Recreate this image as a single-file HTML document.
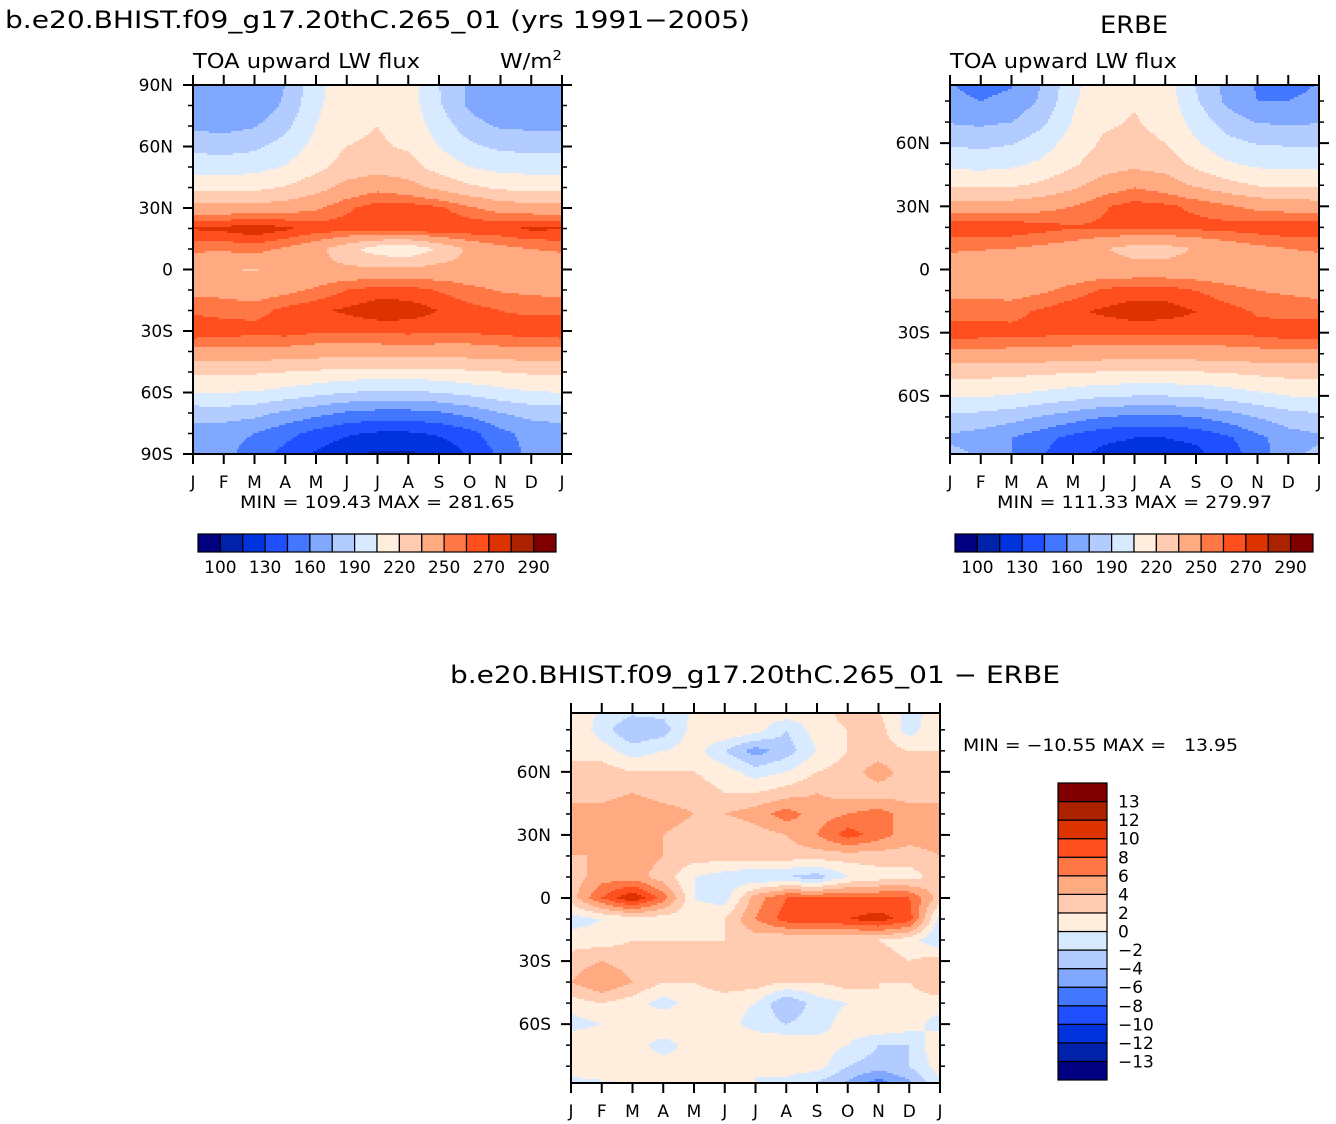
<!DOCTYPE html>
<html><head><meta charset="utf-8">
<style>
body{margin:0;background:#fff;width:1336px;height:1124px;overflow:hidden;font-family:"DejaVu Sans","Liberation Sans",sans-serif;}
svg{position:absolute;left:0;top:0;}
text{font-family:"DejaVu Sans","Liberation Sans",sans-serif;fill:#000;}
</style></head>
<body>
<svg id="fig" width="1336" height="1124" viewBox="0 0 1336 1124" xmlns="http://www.w3.org/2000/svg">
<text x="5" y="28" font-size="24" textLength="745" lengthAdjust="spacingAndGlyphs">b.e20.BHIST.f09_g17.20thC.265_01 (yrs 1991−2005)</text>
<text x="1100" y="33" font-size="24" textLength="68" lengthAdjust="spacingAndGlyphs">ERBE</text>
<text x="193" y="68" font-size="20" textLength="227" lengthAdjust="spacingAndGlyphs">TOA upward LW flux</text>
<text x="500" y="68" font-size="20" textLength="62" lengthAdjust="spacingAndGlyphs">W/m<tspan font-size="13" dy="-8">2</tspan></text>
<text x="950" y="68" font-size="20" textLength="227" lengthAdjust="spacingAndGlyphs">TOA upward LW flux</text>
<text x="240" y="508" font-size="17" textLength="275" lengthAdjust="spacingAndGlyphs">MIN = 109.43 MAX = 281.65</text>
<text x="997" y="508" font-size="17" textLength="275" lengthAdjust="spacingAndGlyphs">MIN = 111.33 MAX = 279.97</text>
<text x="450" y="683" font-size="24" textLength="610" lengthAdjust="spacingAndGlyphs">b.e20.BHIST.f09_g17.20thC.265_01 − ERBE</text>
<text x="963" y="751" font-size="17" textLength="275" lengthAdjust="spacingAndGlyphs" xml:space="preserve">MIN = −10.55 MAX =   13.95</text>
</svg>
<script>
const months = ["J","F","M","A","M","J","J","A","S","O","N","D","J"];
const meanLevels = [100,115,130,145,160,175,190,205,220,235,250,260,270,280,290];
const meanTickLabels = ["100","130","160","190","220","250","270","290"];
const diffLevels = [-13,-12,-10,-8,-6,-4,-2,0,2,4,6,8,10,12,13];
const diffTickLabels = ["−13","−12","−10","−8","−6","−4","−2","0","2","4","6","8","10","12","13"];
const palette = ["#000080","#0022aa","#0033dd","#1f4fff","#4477ff","#80a8ff","#b2ccff","#d8eaff","#ffeedd","#ffccb2","#ffaa80","#ff7744","#ff4f1f","#dd3300","#aa2200","#800000"];
// rows: 90N..90S every 10 deg; cols: Jan..Jan
const modelRows = [
[170,165,160,175,200,215,218,212,190,172,160,165,170],
[165,160,162,178,202,215,218,213,192,172,160,160,165],
[172,170,174,186,205,217,220,215,198,182,173,172,172],
[186,184,187,196,210,220,222,218,205,193,187,186,186],
[199,198,200,206,216,226,229,226,214,205,200,199,199],
[216,215,216,221,229,240,246,241,231,223,217,216,216],
[240,240,240,243,248,258,265,266,262,252,244,241,240],
[271,273,278,272,266,265,265,267,270,268,268,272,271],
[252,252,254,248,240,225,212,208,222,238,246,250,252],
[240,236,234,240,238,238,238,238,240,240,240,240,240],
[246,246,242,246,252,260,264,264,259,253,249,247,246],
[258,256,256,263,268,272,277,276,270,264,260,258,258],
[268,266,264,265,262,262,262,263,262,262,264,266,268],
[245,245,245,245,243,243,243,243,243,243,245,245,245],
[222,222,222,220,218,215,215,215,215,218,220,222,222],
[205,205,204,200,195,190,188,188,190,195,200,204,205],
[182,183,180,172,165,158,155,155,158,165,175,180,182],
[168,166,160,150,140,132,128,128,132,140,155,166,168],
[172,165,152,140,128,118,112,112,118,132,148,165,172]];
const erbeRows = [
[160,155,158,175,200,215,218,212,188,170,158,155,160],
[163,160,163,178,203,216,219,214,192,172,160,160,163],
[174,172,175,187,206,218,221,216,199,183,174,173,174],
[188,186,189,198,212,222,224,220,207,195,189,188,188],
[201,200,202,208,218,228,231,228,216,207,202,201,201],
[218,217,218,223,231,242,248,243,233,225,219,218,218],
[242,242,242,245,250,259,264,262,258,252,246,243,242],
[268,268,267,264,261,262,262,262,263,264,266,268,268],
[252,251,250,247,244,236,230,230,236,242,247,250,252],
[242,240,240,240,240,240,240,240,240,240,240,242,242],
[246,246,244,248,254,262,265,265,260,254,250,248,246],
[256,256,257,262,268,272,276,275,270,264,259,257,256],
[266,265,263,263,262,262,262,262,262,262,263,266,266],
[245,245,245,245,243,243,243,243,243,243,245,245,245],
[223,223,222,220,218,216,216,216,216,218,221,223,223],
[207,206,204,200,196,192,190,190,192,196,201,205,207],
[186,185,181,174,167,160,157,157,160,167,176,183,186],
[172,168,160,150,140,133,130,130,133,142,156,168,172],
[182,175,160,145,132,124,120,120,124,135,152,170,182]];
const diffRows = [
[1,0,-1,-1,0,2,1,2,1,3,2,-1,1],
[2,-1,-4,-3,1,2,1,-2,1,2,3,-1,2],
[2,1,-1,0,1,-2,-5,-3,0,2,3,2,2],
[2,3,2,2,2,1,-1,0,2,3,5,3,2],
[3,3,4,3,3,2,2,3,4,3,3,3,3],
[5,5,6,5,4,4,5,7,5,6,7,5,5],
[5,6,6,4,3,2,3,4,6,9,7,5,5],
[4,4,5,4,3,3,3,3,3,3,3,3,4],
[3,5,5,3,0,-1,-2,-2,-3,0,1,1,3],
[3,8,12,7,0,-1,5,8,8,8,8,8,3],
[-1,0,1,1,1,2,6,9,9,10,11,9,-1],
[1,1,2,2,2,2,3,2,2,2,2,1,-2],
[3,4,3,2,4,4,3,3,2,3,3,2,3],
[4,6,4,2,2,3,3,2,2,3,2,2,4],
[1,2,1,-1,1,1,0,-4,-1,0,2,1,1],
[-1,0,1,2,2,1,-1,-2,-1,1,2,1,-1],
[2,2,1,-1,1,2,2,2,1,0,-2,-2,2],
[1,2,2,1,1,1,0,1,1,-2,-3,-2,1],
[-1,-1,0,0,0,0,0,-1,-3,-5,-8,-5,-1]];

const NS="http://www.w3.org/2000/svg";
const svg=document.getElementById('fig');
function mk(tag,attrs,parent){const e=document.createElementNS(NS,tag);for(const k in attrs)e.setAttribute(k,attrs[k]);(parent||svg).appendChild(e);return e;}
function levelIndex(v,levels){let i=0;while(i<levels.length&&v>=levels[i])i++;return i;}
function sample(rows,m,r){
  const nr=rows.length-1,nc=rows[0].length-1;
  m=Math.max(0,Math.min(nc,m));r=Math.max(0,Math.min(nr,r));
  const c0=Math.min(nc-1,Math.floor(m)),r0=Math.min(nr-1,Math.floor(r));
  const fx=m-c0,fy=r-r0;
  const a=rows[r0][c0],b=rows[r0][c0+1],c=rows[r0+1][c0],d=rows[r0+1][c0+1];
  return a*(1-fx)*(1-fy)+b*fx*(1-fy)+c*(1-fx)*fy+d*fx*fy;
}
function xScale(p,m){return p.x+m/12*p.w;}
function yScale(p,lat){return p.y+(p.lm-lat)/(2*p.lm)*p.h;}
function latAt(p,py){return p.lm-py/p.h*2*p.lm;}
function panel(p,rows,levels,name,yl){
  const g=mk('g',{});
  
  
  const step=2;
  function flush(py,x0,x1,idx){
    const rc=mk('rect',{x:p.x+x0,y:p.y+py,width:x1-x0+0.6,height:Math.min(step,p.h-py)+0.6,fill:palette[idx]},g);
    
    
  }
  for(let py=0;py<p.h;py+=step){
    const r=(90-latAt(p,py+step/2))/10;
    let runStart=0,runIdx=-1;
    for(let px=0;px<p.w;px+=step){
      const m=(px+step/2)/p.w*12;
      const idx=levelIndex(sample(rows,m,r),levels);
      if(idx!==runIdx){
        if(runIdx>=0) flush(py,runStart,px,runIdx);
        runStart=px;runIdx=idx;
      }
    }
    flush(py,runStart,p.w,runIdx);
  }
  const ax=mk('g',{stroke:'#000','stroke-width':2,fill:'none'});
  
  
  mk('rect',{x:p.x,y:p.y,width:p.w,height:p.h},ax);
  for(let i=0;i<=12;i++){
    const x=xScale(p,i);
    mk('line',{x1:x,x2:x,y1:p.y+p.h,y2:p.y+p.h+10},ax);
    mk('line',{x1:x,x2:x,y1:p.y,y2:p.y-10},ax);
    const t=mk('text',{x:x,y:p.y+p.h+34,'font-size':17,'text-anchor':'middle',stroke:'none',fill:'#000'});
    t.textContent=months[i];
    
    
  }
  for(let lat=-90;lat<=90;lat+=10){
    if(Math.abs(lat)>p.lm+0.01) continue;
    const y=yScale(p,lat);const major=lat%30===0;const L=major?10:5;
    mk('line',{x1:p.x,x2:p.x-L,y1:y,y2:y,'stroke-width':major?2:1.5},ax);
    mk('line',{x1:p.x+p.w,x2:p.x+p.w+L,y1:y,y2:y,'stroke-width':major?2:1.5},ax);
  }
  yl.forEach(([lat,lab])=>{
    const t=mk('text',{x:p.x-20,y:yScale(p,lat)+6,'font-size':17,'text-anchor':'end'});
    t.textContent=lab;
    
    
  });
}
function hbar(x,y,w,h,name){
  const g=mk('g',{});
  
  
  const bw=w/16;
  palette.forEach((c,i)=>{mk('rect',{x:x+i*bw,y:y,width:bw,height:h,fill:c,stroke:'#000','stroke-width':1.2},g);});
  meanTickLabels.forEach((lab,i)=>{
    const t=mk('text',{x:x+(2*i+1)*bw,y:y+h+21,'font-size':17,'text-anchor':'middle'},g);
    t.textContent=lab;
  });
}
function vbar(x,y,w,h,name){
  const g=mk('g',{});
  
  
  const bh=h/16;
  palette.forEach((c,i)=>{mk('rect',{x:x,y:y+(15-i)*bh,width:w,height:bh,fill:c,stroke:'#000','stroke-width':1.2},g);});
  diffTickLabels.forEach((lab,i)=>{
    const t=mk('text',{x:x+w+11,y:y+(15-i)*bh+6,'font-size':17,'text-anchor':'start'},g);
    t.textContent=lab;
  });
}
const P1={x:193,y:85,w:369,h:369,lm:90},P2={x:950,y:85,w:369,h:369,lm:87.6},P3={x:571,y:713,w:369,h:370,lm:88};
panel(P1,modelRows,meanLevels,'model',[[90,'90N'],[60,'60N'],[30,'30N'],[0,'0'],[-30,'30S'],[-60,'60S'],[-90,'90S']]);
panel(P2,erbeRows,meanLevels,'erbe',[[60,'60N'],[30,'30N'],[0,'0'],[-30,'30S'],[-60,'60S']]);
panel(P3,diffRows,diffLevels,'diff',[[60,'60N'],[30,'30N'],[0,'0'],[-30,'30S'],[-60,'60S']]);
hbar(198,534,358,18,'model-colorbar');
hbar(955,534,358,18,'erbe-colorbar');
vbar(1058,783,49,297,'diff-colorbar');
</script>
</body></html>
